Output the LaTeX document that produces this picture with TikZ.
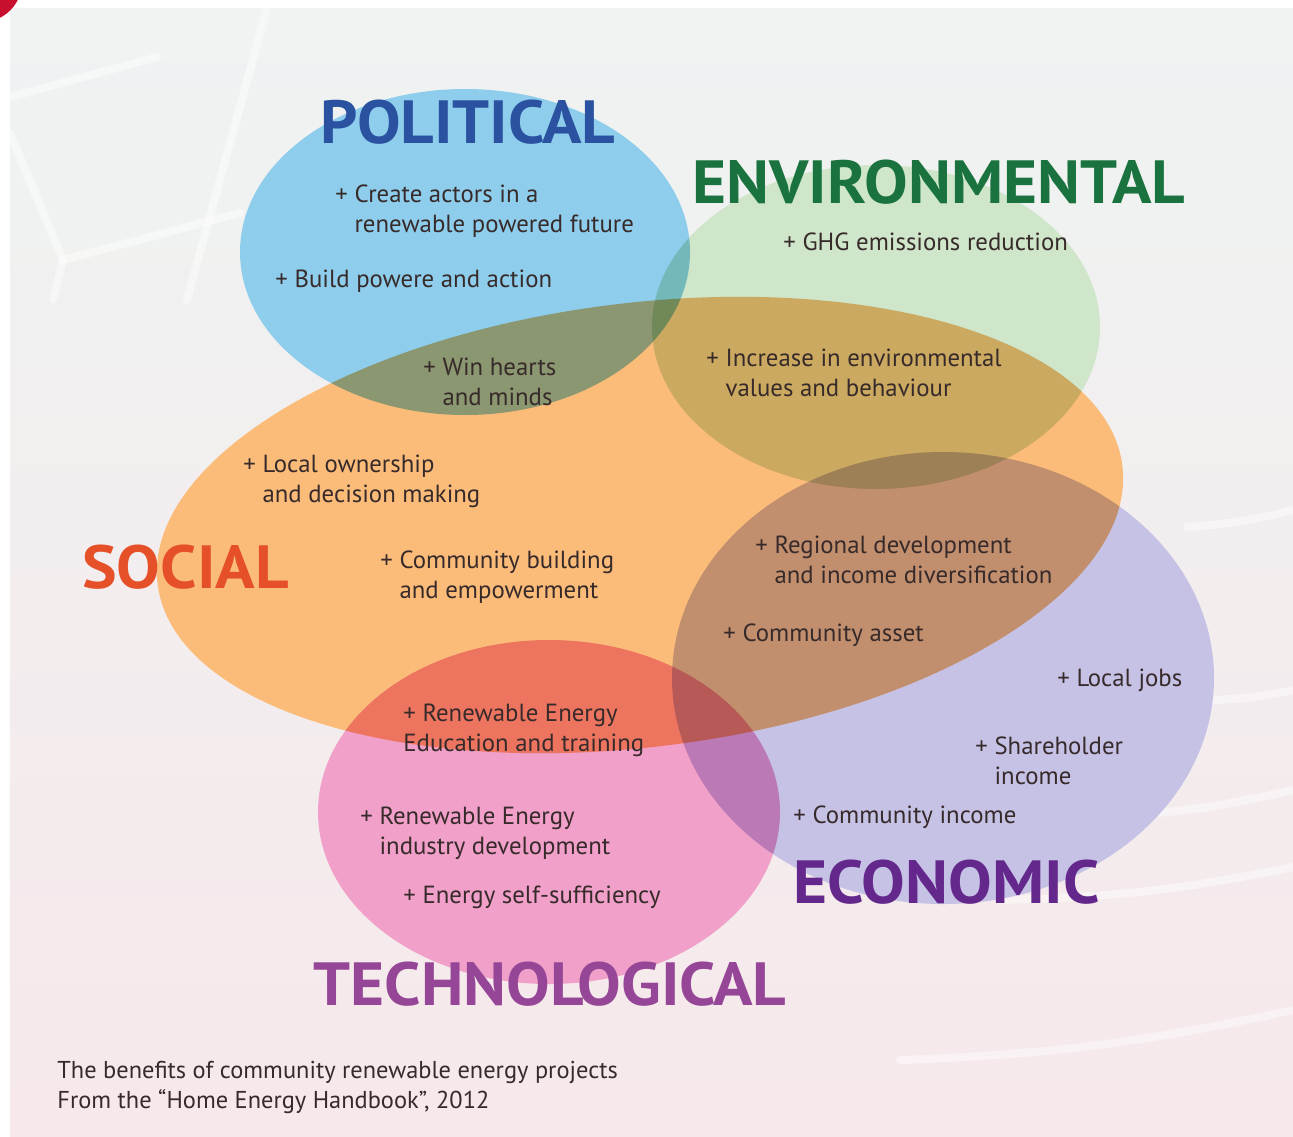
\documentclass[tikz,border=0pt]{standalone}
\usepackage{fontspec}
\usepackage{graphicx}
\setmainfont{PT Sans}
\usetikzlibrary{positioning}

\definecolor{polblue}{RGB}{142,206,236}
\definecolor{envgreen}{RGB}{207,230,202}
\definecolor{socorange}{RGB}{251,188,122}
\definecolor{ecopurple}{RGB}{198,194,230}
\definecolor{techpink}{RGB}{241,160,201}
\definecolor{poltitle}{RGB}{42,82,160}
\definecolor{envtitle}{RGB}{26,115,62}
\definecolor{soctitle}{RGB}{230,80,40}
\definecolor{ecotitle}{RGB}{100,40,140}
\definecolor{techtitle}{RGB}{150,70,150}
\definecolor{benefittext}{RGB}{55,42,42}
\definecolor{bgtop}{RGB}{239,243,242}
\definecolor{bgbottom}{RGB}{246,232,235}
\definecolor{cornerred}{RGB}{200,16,46}

\newcommand{\benefit}[2]{\begin{tabular}[t]{@{}l@{ }l@{}}+&#1\\&#2\end{tabular}}
\newcommand{\heading}[1]{\scalebox{1.07}[1]{#1}}

\begin{document}
\begin{tikzpicture}[x=0.5pt, y=-0.5pt,
    title/.style={anchor=base west, inner sep=0pt, font=\fontsize{30.5}{36}\selectfont\bfseries},
    benefit/.style={anchor=base west, inner sep=0pt, text=benefittext, font=\fontsize{12.4}{15}\selectfont},
    windline/.style={white, line width=4pt, line cap=round, opacity=0.45}]
\useasboundingbox (0,0) rectangle (1293,1136);
\fill[white] (0,0) rectangle (1293,1136);
\shade[top color=bgtop, middle color=bgtop, bottom color=bgbottom] (10,8) rectangle (1293,1136);
\fill[cornerred] (-18,-18) circle [radius=40];

\draw[windline] (267,8) -- (187,300);
\draw[windline] (10,97) -- (157,57);
\draw[windline] (10,133) -- (63,260) -- (240,213);
\draw[windline] (63,260) -- (53,300);
\draw[windline] (1187,527) to[bend right=5] (1293,510);
\draw[windline] (1213,700) to[bend right=5] (1293,690);
\draw[windline] (1100,817) to[bend right=5] (1293,790);
\draw[windline] (1000,900) to[bend right=5] (1293,867);
\draw[windline] (900,1060) to[bend right=5] (1293,1010);

\begin{scope}[blend group=multiply]
\fill[polblue] (465,252) ellipse [x radius=225, y radius=163];
\fill[envgreen] (876,327) ellipse [x radius=224, y radius=162];
\fill[socorange, rotate around={7:(640,525)}] (640,525) ellipse [x radius=486, y radius=222];
\fill[ecopurple] (943,678) ellipse [x radius=271, y radius=226];
\fill[techpink] (549,812) ellipse [x radius=231, y radius=172];
\end{scope}

\node[title, text=poltitle] (pol) at (320,143) {\heading{POLITICAL}};
\node[title, text=envtitle] (env) at (692,203) {\heading{ENVIRONMENTAL}};
\node[title, text=soctitle] (soc) at (82,588) {\heading{SOCIAL}};
\node[title, text=ecotitle] (eco) at (793,903) {\heading{ECONOMIC}};
\node[title, text=techtitle] (tech) at (313,1005) {\heading{TECHNOLOGICAL}};

\node[benefit] (actors) at (335,202) {\benefit{Create actors in a}{renewable powered future}};
\node[benefit] (power) at (275,287) {+ Build powere and action};
\node[benefit] (ghg) at (783,250) {+ GHG emissions reduction};
\node[benefit] (hearts) at (423,375) {\benefit{Win hearts}{and minds}};
\node[benefit] (values) at (706,366) {\benefit{Increase in environmental}{values and behaviour}};
\node[benefit] (ownership) at (243,472) {\benefit{Local ownership}{and decision making}};
\node[benefit] (building) at (380,568) {\benefit{Community building}{and empowerment}};
\node[benefit] (regional) at (755,553) {\benefit{Regional development}{and income diversification}};
\node[benefit] (asset) at (723,641) {+ Community asset};
\node[benefit] (jobs) at (1057,686) {+ Local jobs};
\node[benefit] (shareholder) at (975,754) {\benefit{Shareholder}{income}};
\node[benefit] (cincome) at (793,823) {+ Community income};
\node[benefit] (education) at (403,721) {\begin{tabular}[t]{@{}l@{}}+ Renewable Energy\\Education and training\end{tabular}};
\node[benefit] (industry) at (360,824) {\benefit{Renewable Energy}{industry development}};
\node[benefit] (selfsuff) at (403,903) {+ Energy self-sufficiency};

\node[benefit, font=\fontsize{12.2}{15}\selectfont] (caption) at (57,1078) {\begin{tabular}[t]{@{}l@{}}The benefits of community renewable energy projects\\From the “Home Energy Handbook”, 2012\end{tabular}};
\end{tikzpicture}
\end{document}
